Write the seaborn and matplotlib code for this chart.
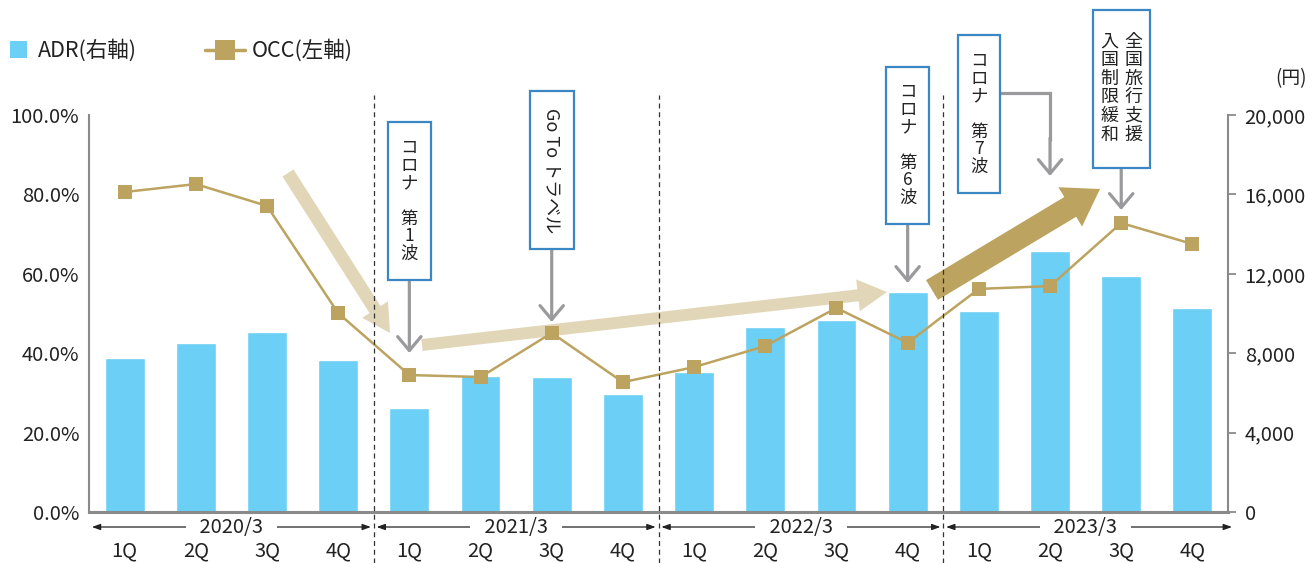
import matplotlib
matplotlib.use("Agg")
import matplotlib.pyplot as plt
import matplotlib.transforms as mtrans
from matplotlib.patches import Rectangle
from matplotlib.lines import Line2D
import pandas as pd
import seaborn as sns

# ---------------- data ----------------
years = ["2020/3", "2021/3", "2022/3", "2023/3"]
quarters = ["1Q", "2Q", "3Q", "4Q"]
adr_yen = [7760, 8510, 9070, 7660, 5240, 6850, 6800, 5950,
           7050, 9320, 9670, 11080, 10130, 13150, 11890, 10280]
occ_pct = [80.6, 82.6, 77.1, 50.1, 34.5, 34.0, 45.1, 32.7,
           36.5, 41.8, 51.4, 42.6, 56.2, 56.9, 72.8, 67.5]
adr_ticks = [0, 4000, 8000, 12000, 16000, 20000]
occ_ticks = [0, 20, 40, 60, 80, 100]
legend_labels = ["ADR(右軸)", "OCC(左軸)"]
unit_label = "(円)"

BLUE = "#6bcff6"
GOLD = "#bca35f"
LIGHT = "#e1d6b7"
BOXEDGE = "#3b87c3"
GRAY = "#9a9a9c"
TXT = "#222222"
SPINE = "#8a8a8a"

sns.set_style("white")
plt.rcParams["font.family"] = ["Noto Sans CJK JP", "DejaVu Sans"]

W, H = 1312, 563
L, R, B, T = 89, 1228, 512, 115
N = len(years) * len(quarters)
fig = plt.figure(figsize=(W / 100, H / 100), dpi=100)
ax = fig.add_axes([L / W, 1 - B / H, (R - L) / W, (B - T) / H])
ax2 = ax.twinx()

cats = [f"{y} {q}" for y in years for q in quarters]
df = pd.DataFrame({"cat": cats, "ADR": adr_yen, "OCC": occ_pct})

sns.barplot(data=df, x="cat", y="ADR", ax=ax, color=BLUE, width=0.56,
            saturation=1, zorder=1)
sns.pointplot(data=df, x="cat", y="OCC", ax=ax2, color=GOLD, markers="s",
              errorbar=None, markersize=10, linewidth=1.8, markeredgewidth=0)

ax.set_xlim(-0.5, N - 0.5)
ax2.set_xlim(-0.5, N - 0.5)
ax.set_ylim(0, 20000)
ax2.set_ylim(0, 100)
for a in (ax, ax2):
    a.set_xlabel("")
    a.set_ylabel("")

TICK_FS = 14.5
# right axis (ADR)
ax.yaxis.tick_right()
ax.set_yticks(adr_ticks, [f"{v:,}" for v in adr_ticks])
ax.tick_params(axis="y", length=6, width=1.3, color=SPINE, pad=6,
               labelsize=TICK_FS, labelcolor=TXT, direction="out")
ax.set_xticks(range(N), [""] * N)
ax.tick_params(axis="x", length=0)
# left axis (OCC)
ax2.yaxis.tick_left()
ax2.set_yticks(occ_ticks, [f"{v:.1f}%" for v in occ_ticks])
ax2.tick_params(axis="y", length=0, pad=7, labelsize=TICK_FS, labelcolor=TXT)

for s in ax.spines.values():
    s.set_color(SPINE)
    s.set_linewidth(1.5)
ax.spines["top"].set_visible(False)
ax.spines["bottom"].set_linewidth(2.2)
for s in ax2.spines.values():
    s.set_visible(False)
ax.grid(False)
ax2.grid(False)


def fy(py):
    return (B - py) / (B - T)


def fx(px):
    return (px - L) / ((R - L) / N) - 0.5


xt = ax.get_xaxis_transform()
xt2 = ax2.get_xaxis_transform()

# x category labels and fiscal-year brackets
for i, yr in enumerate(years):
    for j, q in enumerate(quarters):
        ax.text(4 * i + j, fy(551), q, transform=xt, ha="center", va="center",
                fontsize=TICK_FS, color=TXT)
    x0, x1 = 4 * i - 0.5 + 0.04, 4 * i + 3.5 - 0.04
    if i == len(years) - 1:
        x1 = fx(1232)
    ax.annotate("", xy=(x1, fy(527)), xytext=(x0, fy(527)), xycoords=xt,
                arrowprops=dict(arrowstyle="<|-|>,head_length=0.5,head_width=0.18",
                                color=TXT, lw=0.9, shrinkA=0, shrinkB=0,
                                mutation_scale=10),
                annotation_clip=False)
    ax.text(4 * i + 1.5, fy(527), "   " + yr + "   ", transform=xt,
            ha="center", va="center", fontsize=TICK_FS, color=TXT, zorder=5,
            bbox=dict(boxstyle="square,pad=0.02", fc="white", ec="none"))

# dashed separators
for k in range(1, len(years)):
    ax2.axvline(4 * k - 0.5, ymin=fy(563), ymax=fy(95), color="#333333",
                lw=0.9, ls=(0, (4, 3)), clip_on=False, zorder=4)

# big trend arrows (between bars and line)
big_arrows = [
    ((288, 173), (390, 333), LIGHT, 0.94, 2.2, 2.0),
    ((422, 345), (887, 292), LIGHT, 0.86, 2.3, 2.1),
    ((932, 290), (1100, 189), GOLD, 1.66, 3.3, 2.5),
]
for (tx, ty), (hx, hy), col, tw, hw, hl in big_arrows:
    ax.annotate("", xy=(fx(hx), fy(hy)), xytext=(fx(tx), fy(ty)), xycoords=xt,
                arrowprops=dict(arrowstyle=f"simple,head_length={hl},head_width={hw},tail_width={tw}",
                                fc=col, ec="none", shrinkA=0, shrinkB=0,
                                mutation_scale=10),
                annotation_clip=False, zorder=3)

# event boxes
PX2PT = 0.72


def box(xc, y_top, y_bot, width_px):
    wd = width_px / ((R - L) / N)
    ax2.add_patch(Rectangle((xc - wd / 2, fy(y_bot)), wd, fy(y_top) - fy(y_bot),
                            transform=xt2, fc="white", ec=BOXEDGE, lw=1.6,
                            clip_on=False, zorder=6))


def vtext(xc, yc, text, pitch, size, dx=0):
    n = len(text)
    for i, ch in enumerate(text):
        if ch.strip() == "":
            continue
        off = ((n - 1) / 2 - i) * pitch * PX2PT
        ax2.annotate(ch, xy=(xc, fy(yc)), xycoords=xt2, xytext=(dx * PX2PT, off),
                     textcoords="offset points", ha="center", va="center",
                     fontsize=size, color=TXT, annotation_clip=False, zorder=7)


def down_arrow(xc, y0, y1):
    ax2.annotate("", xy=(xc, fy(y1)), xytext=(xc, fy(y0)), xycoords=xt2,
                 arrowprops=dict(arrowstyle="->,head_length=0.5,head_width=0.42",
                                 color=GRAY, lw=2.3, shrinkA=0, shrinkB=0,
                                 mutation_scale=20),
                 annotation_clip=False, zorder=5)


# コロナ 第1波
box(4, 122, 280, 43)
vtext(4, 201, "コロナ　第1波", 17.7, 12.5)
down_arrow(4, 280, 353)
# Go To トラベル
box(6, 91, 249, 44)
ax2.text(6, fy(171), "Go To トラベル", transform=xt2, rotation=-90,
         ha="center", va="center", fontsize=13, color=TXT, zorder=7)
down_arrow(6, 249, 322)
# コロナ 第6波
box(11, 67, 224, 43)
vtext(11, 145, "コロナ　第6波", 17.7, 12.5)
down_arrow(11, 224, 283)
# コロナ 第7波
box(12, 35, 193, 42)
vtext(12, 114, "コロナ　第7波", 17.7, 12.5)
ax2.plot([fx(999), 13, 13], [fy(93), fy(93), fy(140)], transform=xt2,
         color=GRAY, lw=2.3, clip_on=False, zorder=5, solid_joinstyle="miter")
down_arrow(13, 138, 176)
# 全国旅行支援 / 入国制限緩和
box(14, 10, 168, 57)
vtext(14, 88, "全国旅行支援", 18.6, 13, dx=12)
vtext(14, 88, "入国制限緩和", 18.6, 13, dx=-12)
down_arrow(14, 168, 210)

# legend (manual)
figpx = mtrans.Affine2D().scale(1 / W, -1 / H).translate(0, 1) + fig.transFigure
fig.add_artist(Rectangle((10, 41), 17, 17, transform=figpx, fc=BLUE, ec="none"))
fig.text(38, 50, legend_labels[0], transform=figpx, ha="left", va="center",
         fontsize=15.5, color=TXT)
fig.add_artist(Line2D([205, 245], [50, 50], transform=figpx, color=GOLD, lw=2.5))
fig.add_artist(Line2D([225], [50], transform=figpx, color=GOLD, marker="s",
                      markersize=14.5, markeredgewidth=0, ls="none"))
fig.text(252, 50, legend_labels[1], transform=figpx, ha="left", va="center",
         fontsize=15.5, color=TXT)
fig.text(1307, 79, unit_label, transform=figpx, ha="right", va="center",
         fontsize=13.5, color=TXT)

fig.savefig("out.png", dpi=100)
